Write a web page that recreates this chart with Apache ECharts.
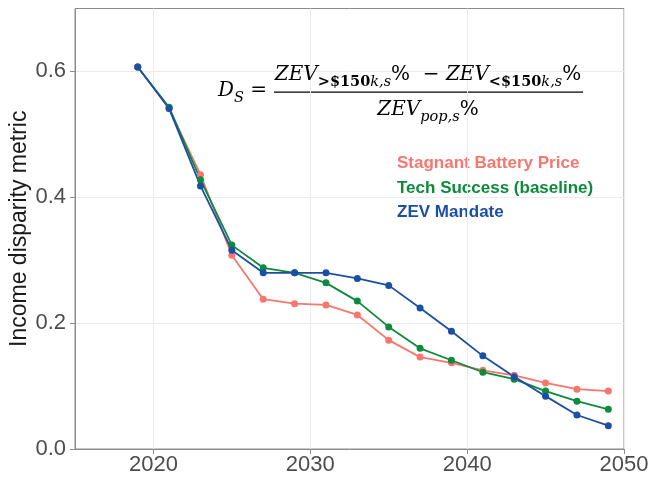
<!DOCTYPE html>
<html><head><meta charset="utf-8">
<script src="https://cdn.jsdelivr.net/npm/echarts@6/dist/echarts.min.js"></script>
<style>html,body{margin:0;padding:0;background:#fff}#c{width:650px;height:478px}</style>
</head><body><div id="c"></div>
<script>
var years = [2019,2021,2023,2025,2027,2029,2031,2033,2035,2037,2039,2041,2043,2045,2047,2049];
var stagnant = [0.607,0.541,0.436,0.308,0.238,0.231,0.229,0.213,0.173,0.146,0.137,0.125,0.117,0.105,0.095,0.092];
var techSuccess = [0.607,0.543,0.428,0.324,0.288,0.280,0.264,0.235,0.194,0.160,0.141,0.122,0.111,0.092,0.076,0.063];
var zevMandate = [0.607,0.541,0.418,0.316,0.280,0.280,0.280,0.271,0.260,0.224,0.187,0.148,0.115,0.084,0.054,0.037];
var xTicks = [2020,2030,2040,2050];
var yTicks = [0,0.2,0.4,0.6];
var seriesNames = ['Stagnant Battery Price','Tech Success (baseline)','ZEV Mandate'];
var colors = ['#F8766D','#0E8A3C','#1B4FA3'];
var yTitle = 'Income disparity metric';

function pairs(v){ return years.map(function(y,i){ return [y, v[i]]; }); }
var chart = echarts.init(document.getElementById('c'), null, {renderer:'canvas'});
var font = 'Liberation Sans, Arial, sans-serif';
var mkSeries = function(name, data, color){
  return {name:name, type:'line', data:pairs(data), symbol:'circle', symbolSize:7,
    lineStyle:{color:color, width:1.8}, itemStyle:{color:color}, animation:false, z:3};
};

// formula pieces: [text, kind]; kind m=main italic, r=main roman, b=sub bold, s=sub italic
var FONTS = {
  m:'italic 20px DejaVu Serif',
  r:'20px DejaVu Serif',
  b:'bold 14.5px DejaVu Serif',
  s:'italic 14.5px DejaVu Serif'
};
var SUBSHIFT = 7;
var mctx = document.createElement('canvas').getContext('2d');
function measure(t, k){ mctx.font = FONTS[k]; return mctx.measureText(t).width; }
function layout(pieces, x, yMain, align){
  var w = 0; pieces.forEach(function(p){ w += measure(p[0], p[1]); });
  var cx = align === 'center' ? x - w/2 : x;
  var out = [];
  pieces.forEach(function(p){
    var isSub = p[1] === 'b' || p[1] === 's';
    out.push({type:'text', x:cx, y: yMain + (isSub ? SUBSHIFT : 0), z:10,
      style:{text:p[0], font:FONTS[p[1]], fill:'#000', align:'left', verticalAlign:'middle'}});
    cx += measure(p[0], p[1]);
  });
  return out;
}
var formula = [].concat(
  layout([['D','m'],['S','s'],[' = ','r']], 218, 91, 'left'),
  layout([['ZEV','m'],['>$150','b'],['k,s','s'],['%  \u2212 ','r'],['ZEV','m'],['<$150','b'],['k,s','s'],['%','r']], 428, 75, 'center'),
  layout([['ZEV','m'],['pop,s','s'],['%','r']], 428, 110, 'center'),
  [{type:'rect', shape:{x:274, y:91.5, width:309, height:1.3}, style:{fill:'#000'}}]
);

chart.setOption({
  animation:false,
  grid:{left:75, top:8.5, right:26, bottom:29, show:true, borderColor:'#8c8c8c', borderWidth:1, containLabel:false, outerBoundsMode:'none'},
  xAxis:{type:'value', min:2015, max:2050, interval:5,
    axisLine:{show:true, lineStyle:{color:'#8c8c8c'}},
    axisTick:{show:true, customValues:xTicks, length:5, lineStyle:{color:'#8c8c8c'}},
    axisLabel:{customValues:xTicks, color:'#4d4d4d', fontSize:22, fontFamily:font, margin:5,
      formatter:function(v){ return String(v); }},
    splitLine:{show:true, lineStyle:{color:'#ebebeb', width:1}}},
  yAxis:{type:'value', min:0, max:0.7, interval:0.1,
    name:yTitle, nameLocation:'middle', nameGap:44, nameRotate:90, nameMoveOverlap:false,
    nameTextStyle:{color:'#1a1a1a', fontSize:23, fontFamily:font},
    axisLine:{show:true, lineStyle:{color:'#8c8c8c'}},
    axisTick:{show:true, customValues:yTicks, length:5, lineStyle:{color:'#8c8c8c'}},
    axisLabel:{customValues:yTicks, color:'#4d4d4d', fontSize:22, fontFamily:font, margin:9,
      formatter:function(v){ return v.toFixed(1); }},
    splitLine:{show:true, lineStyle:{color:'#ebebeb', width:1}}},
  series:[mkSeries(seriesNames[0], stagnant, colors[0]), mkSeries(seriesNames[1], techSuccess, colors[1]), mkSeries(seriesNames[2], zevMandate, colors[2])],
  graphic:[
    {type:'text', x:397, y:163, style:{text:seriesNames[0], fill:colors[0], font:'bold 17px Liberation Sans', verticalAlign:'middle'}},
    {type:'text', x:397, y:188, style:{text:seriesNames[1], fill:colors[1], font:'bold 17px Liberation Sans', verticalAlign:'middle'}},
    {type:'text', x:397, y:212, style:{text:seriesNames[2], fill:colors[2], font:'bold 17px Liberation Sans', verticalAlign:'middle'}}
  ].concat(formula)
});
</script></body></html>
